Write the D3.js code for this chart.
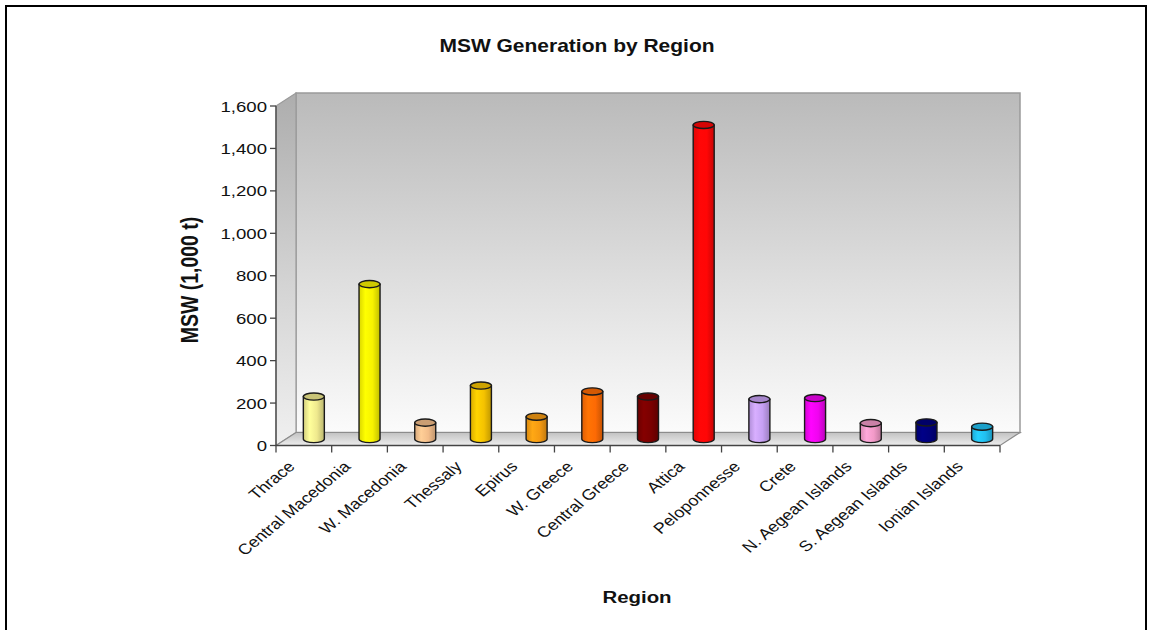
<!DOCTYPE html>
<html>
<head>
<meta charset="utf-8">
<script src="https://cdn.jsdelivr.net/npm/d3@7/dist/d3.min.js"></script>
<style>
  html, body { margin: 0; padding: 0; background: #fff; }
  svg { display: block; font-family: "Liberation Sans", Arial, sans-serif; }
</style>
</head>
<body>
<svg id="chart" width="1150" height="630"></svg>
<script>
// MSW generation per region, thousand tonnes
const regions = ["Thrace", "Central Macedonia", "W. Macedonia", "Thessaly", "Epirus",
  "W. Greece", "Central Greece", "Attica", "Peloponnesse", "Crete",
  "N. Aegean Islands", "S. Aegean Islands", "Ionian Islands"];
const msw = [200, 730, 77, 252, 105, 224, 200, 1480, 188, 193, 75, 78, 58];
const barColors = ["#efe98e", "#f7f200", "#f3bd8a", "#f5c200", "#f59a12", "#fd6a04",
  "#7a0000", "#ff0606", "#c6a0f4", "#f004f0", "#f29ac8", "#00007c", "#22bff0"];
const yTicks = [0, 200, 400, 600, 800, 1000, 1200, 1400, 1600];

const svg = d3.select("#chart");
const defs = svg.append("defs");

// plot frame: front plane plus depth offset for the 3D box
const x0 = 276, x1 = 1000;
const depthX = 20, depthY = 13;
const sx = 1.2; // horizontal text stretch

const x = d3.scaleBand().domain(regions).range([x0, x1]).padding(0);
const y = d3.scaleLinear().domain([0, 1600]).range([445.5, 106]);

// outer frame
svg.append("rect").attr("x", 6).attr("y", 6).attr("width", 1140).attr("height", 660)
  .attr("fill", "none").attr("stroke", "#000").attr("stroke-width", 2);

// gradients for the box walls
const wallGrad = defs.append("linearGradient").attr("id", "wall")
  .attr("x1", 0).attr("y1", 0).attr("x2", 0).attr("y2", 1);
wallGrad.append("stop").attr("offset", "0%").attr("stop-color", "#bababa");
wallGrad.append("stop").attr("offset", "55%").attr("stop-color", "#dedede");
wallGrad.append("stop").attr("offset", "100%").attr("stop-color", "#fbfbfb");

const sideGrad = defs.append("linearGradient").attr("id", "side")
  .attr("x1", 0).attr("y1", 0).attr("x2", 0).attr("y2", 1);
sideGrad.append("stop").attr("offset", "0%").attr("stop-color", "#adadad");
sideGrad.append("stop").attr("offset", "55%").attr("stop-color", "#d4d4d4");
sideGrad.append("stop").attr("offset", "100%").attr("stop-color", "#f0f0f0");

const floorGrad = defs.append("linearGradient").attr("id", "floor")
  .attr("x1", 0).attr("y1", 0).attr("x2", 0).attr("y2", 1);
floorGrad.append("stop").attr("offset", "0%").attr("stop-color", "#c2c2c2");
floorGrad.append("stop").attr("offset", "100%").attr("stop-color", "#ededed");

const yTop = y(1600), yBase = y(0);

// back wall
svg.append("rect")
  .attr("x", x0 + depthX).attr("y", yTop - depthY)
  .attr("width", x1 - x0).attr("height", yBase - yTop)
  .attr("fill", "url(#wall)").attr("stroke", "#9a9a9a").attr("stroke-width", 1.5);

// left side wall
svg.append("path")
  .attr("d", `M${x0},${yTop} L${x0 + depthX},${yTop - depthY} L${x0 + depthX},${yBase - depthY} L${x0},${yBase} Z`)
  .attr("fill", "url(#side)").attr("stroke", "#9a9a9a").attr("stroke-width", 1.2);

// floor
svg.append("path")
  .attr("d", `M${x0},${yBase} L${x0 + depthX},${yBase - depthY} L${x1 + depthX},${yBase - depthY} L${x1},${yBase} Z`)
  .attr("fill", "url(#floor)").attr("stroke", "#8c8c8c").attr("stroke-width", 1.2);

// cylinder gradients
barColors.forEach((c, i) => {
  const base = d3.color(c);
  const g = defs.append("linearGradient").attr("id", "cyl" + i)
    .attr("x1", 0).attr("y1", 0).attr("x2", 1).attr("y2", 0);
  g.append("stop").attr("offset", "0%").attr("stop-color", base.darker(0.35));
  g.append("stop").attr("offset", "30%").attr("stop-color", base.brighter(0.25));
  g.append("stop").attr("offset", "65%").attr("stop-color", base);
  g.append("stop").attr("offset", "100%").attr("stop-color", base.darker(0.7));
});

// cylinders sit at mid-depth of the box
const rx = 10.5, ry = 3.6;
const bars = svg.append("g").selectAll("g.bar")
  .data(regions.map((r, i) => ({ r, v: msw[i], i })))
  .join("g").attr("class", "bar");

bars.append("path")
  .attr("d", d => {
    const cx = x(d.r) + x.bandwidth() / 2 + depthX / 2;
    const top = y(d.v) - depthY / 2;
    const bot = y(0) - depthY / 2;
    return `M${cx - rx},${top} L${cx - rx},${bot} A${rx},${ry} 0 0 0 ${cx + rx},${bot} L${cx + rx},${top} Z`;
  })
  .attr("fill", d => `url(#cyl${d.i})`)
  .attr("stroke", "#1a1a1a").attr("stroke-width", 1.4).attr("stroke-linejoin", "round");

bars.append("ellipse")
  .attr("cx", d => x(d.r) + x.bandwidth() / 2 + depthX / 2)
  .attr("cy", d => y(d.v) - depthY / 2)
  .attr("rx", rx).attr("ry", ry)
  .attr("fill", d => d3.color(barColors[d.i]).darker(0.5))
  .attr("stroke", "#1a1a1a").attr("stroke-width", 1.4);

// y axis
const yAxis = svg.append("g");
yAxis.append("line").attr("x1", x0).attr("x2", x0).attr("y1", yTop).attr("y2", yBase)
  .attr("stroke", "#444").attr("stroke-width", 1.3);
yAxis.selectAll("line.tick").data(yTicks).join("line").attr("class", "tick")
  .attr("x1", x0 - 6).attr("x2", x0).attr("y1", d => y(d)).attr("y2", d => y(d))
  .attr("stroke", "#444").attr("stroke-width", 1.3);
yAxis.selectAll("text").data(yTicks).join("text")
  .attr("transform", d => `translate(${x0 - 9},${y(d)}) scale(${sx},1)`)
  .attr("text-anchor", "end").attr("dy", "0.36em")
  .attr("font-size", 15.5).attr("fill", "#111")
  .text(d => d3.format(",")(d));

// x axis
const xAxis = svg.append("g");
xAxis.append("line").attr("x1", x0).attr("x2", x1).attr("y1", yBase).attr("y2", yBase)
  .attr("stroke", "#444").attr("stroke-width", 1.3);
xAxis.selectAll("line.tick").data(regions.concat(["__end"])).join("line").attr("class", "tick")
  .attr("x1", (d, i) => x0 + i * x.step()).attr("x2", (d, i) => x0 + i * x.step())
  .attr("y1", yBase).attr("y2", yBase + 7)
  .attr("stroke", "#444").attr("stroke-width", 1.3);
xAxis.selectAll("text").data(regions).join("text")
  .attr("transform", d => `translate(${x(d) + x.bandwidth() / 2 - 8},${yBase + 22}) scale(${sx},1) rotate(-45)`)
  .attr("text-anchor", "end")
  .attr("font-size", 15).attr("fill", "#111")
  .text(d => d);

// titles
svg.append("text")
  .attr("transform", `translate(577,52) scale(${sx},1)`)
  .attr("text-anchor", "middle").attr("font-size", 17.5).attr("font-weight", "bold")
  .attr("fill", "#111").text("MSW Generation by Region");

svg.append("text")
  .attr("transform", `translate(637,603) scale(${sx},1)`)
  .attr("text-anchor", "middle").attr("font-size", 17).attr("font-weight", "bold")
  .attr("fill", "#111").text("Region");

svg.append("text")
  .attr("transform", `translate(198,280) scale(${sx},1) rotate(-90)`)
  .attr("text-anchor", "middle").attr("font-size", 19.5).attr("font-weight", "bold")
  .attr("fill", "#111").text("MSW (1,000 t)");
</script>
</body>
</html>
